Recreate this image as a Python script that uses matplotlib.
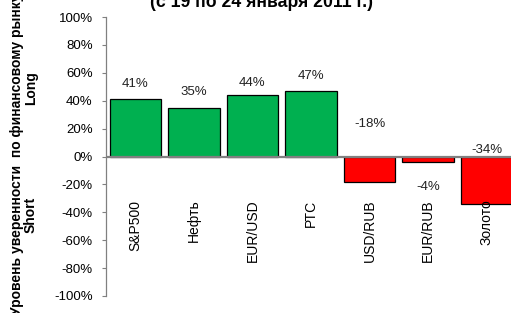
import matplotlib
matplotlib.use("Agg")
from matplotlib import pyplot as plt
from matplotlib.ticker import FuncFormatter

plt.rcParams["font.family"] = ["Liberation Sans", "DejaVu Sans"]

# Индекс уверенности (с 19 по 24 января 2011 г.)
categories = ["S&P500", "Нефть", "EUR/USD", "РТС", "USD/RUB", "EUR/RUB", "Золото"]
values = [41, 35, 44, 47, -18, -4, -34]
labels = ["41%", "35%", "44%", "47%", "-18%", "-4%", "-34%"]
label_y = [52, 46, 52.6, 58, 23, -21.8, 4.6]
yticks = list(range(-100, 101, 20))

W, H = 511, 313
fig = plt.figure(figsize=(W / 100, H / 100), dpi=100)
ax = fig.add_axes([106 / W, 1 - 296 / H, 410 / W, 279 / H])

colors = ["#00B050" if v >= 0 else "#FF0000" for v in values]
x = range(len(categories))
ax.bar(x, values, width=0.877, color=colors, edgecolor="black", linewidth=0.9, zorder=2)
ax.axhline(0, color="#808080", linewidth=1.6, zorder=3)

for i, (lab, ly) in enumerate(zip(labels, label_y)):
    ax.text(i, ly, lab, ha="center", va="center", fontsize=9.5, color="#222222")

for i, cat in enumerate(categories):
    ax.text(i, -31.0, cat, rotation=90, ha="center", va="top", fontsize=10)

ax.set_xlim(-0.5, 6.5)
ax.set_ylim(-100, 100)
ax.set_yticks(yticks)
ax.yaxis.set_major_formatter(FuncFormatter(lambda v, p: f"{v:.0f}%"))
ax.tick_params(axis="y", labelsize=9.5, length=3, width=0.8, color="#808080", pad=6.5)
ax.set_xticks([])
for s in ["top", "right", "bottom"]:
    ax.spines[s].set_visible(False)
ax.spines["left"].set_color("#808080")
ax.spines["left"].set_linewidth(0.9)

fig.text(17.5 / W, 1 - 154 / H, "Уровень уверенности  по финансовому рынку",
         rotation=90, ha="center", va="center", fontsize=10, fontweight="bold")
fig.text(31 / W, 1 - 88 / H, "Long", rotation=90, ha="center", va="center",
         fontsize=10, fontweight="bold")
fig.text(31 / W, 1 - 215 / H, "Short", rotation=90, ha="center", va="center",
         fontsize=10, fontweight="bold")
fig.text(262 / W, 1 - 7.3 / H, "(с 19 по 24 января 2011 г.)", ha="center",
         va="baseline", fontsize=12.7, fontweight="bold")

fig.savefig("out.png", dpi=100)
